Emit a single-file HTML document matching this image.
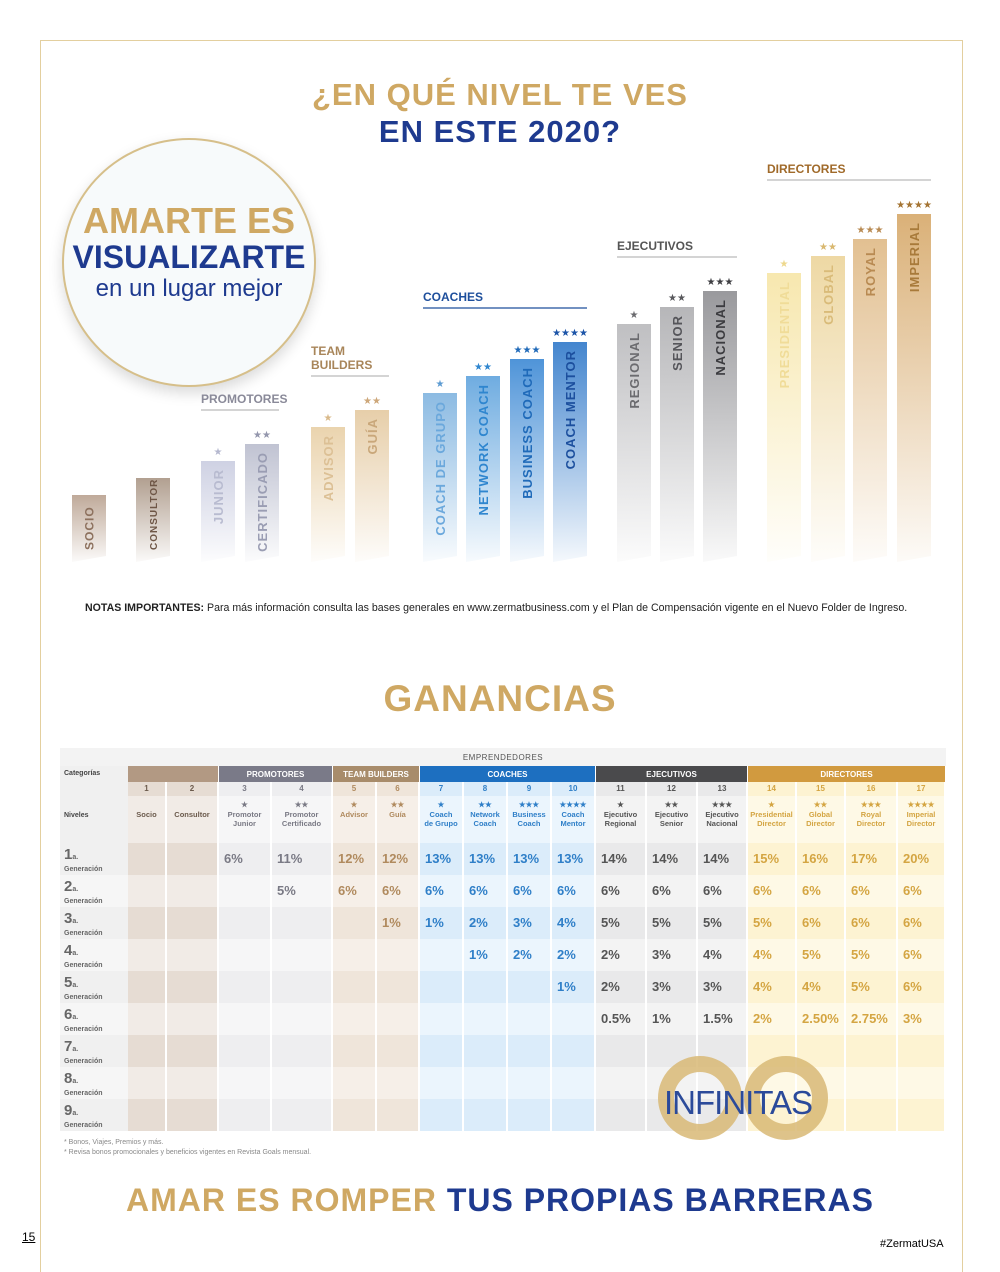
<!DOCTYPE html>
<html><head><meta charset="utf-8"><style>
body{margin:0;background:#fff;font-family:"Liberation Sans",sans-serif}
#page{position:relative;width:1000px;height:1272px;overflow:hidden;background:#fff}
.abs{position:absolute}
.gold{color:#cfa863}.navy{color:#1e3a8f}
</style></head><body>
<div id="page">
<div class="abs" style="left:40px;top:40px;width:923px;height:1240px;border:1.5px solid #e3cf9f;border-bottom:none;box-sizing:border-box"></div>
<div class="abs" style="left:0;top:76px;width:1000px;text-align:center;font-weight:bold;font-size:31px;line-height:37px;letter-spacing:1px"><span class="gold">¿EN QUÉ NIVEL TE VES</span><br><span class="navy">EN ESTE 2020?</span></div>
<div class="abs" style="left:62px;top:138px;width:250px;height:245px;border-radius:50%;background:#f7fafb;border:2px solid #d6bf8a;box-shadow:0 6px 14px rgba(0,0,0,.15);text-align:center">
<div style="margin-top:62px;font-weight:bold;font-size:36px;color:#cfa863;line-height:38px">AMARTE ES</div>
<div style="font-weight:bold;font-size:32px;color:#1e3a8f;line-height:34px">VISUALIZARTE</div>
<div style="font-size:24px;color:#1e3a8f;line-height:30px">en un lugar mejor</div></div>
<svg id="bars" class="abs" style="left:0;top:0" width="1000" height="600"></svg>
<div class="abs" style="left:85px;top:602px;font-size:10.6px;color:#222;white-space:nowrap"><b>NOTAS IMPORTANTES:</b> Para más información consulta las bases generales en www.zermatbusiness.com y el Plan de Compensación vigente en el Nuevo Folder de Ingreso.</div>
<div class="abs gold" style="left:0;top:678px;width:1000px;text-align:center;font-weight:bold;font-size:37px;letter-spacing:1px">GANANCIAS</div>
<div id="tbl" class="abs" style="left:0;top:0"></div>
<div class="abs" style="left:652px;top:1056px;width:190px;height:84px">
<div class="abs" style="left:6px;top:0;width:84px;height:84px;border-radius:50%;border:16px solid #d8b875;box-sizing:border-box;opacity:.85"></div>
<div class="abs" style="left:92px;top:0;width:84px;height:84px;border-radius:50%;border:16px solid #d8b875;box-sizing:border-box;opacity:.85"></div>
<div class="abs" style="left:12px;top:28px;font-size:33px;color:#2b4a9a;letter-spacing:-1px">INFINITAS</div></div>
<div class="abs" style="left:64px;top:1138px;font-size:7px;color:#888;line-height:10px">* Bonos, Viajes, Premios y más.<br>* Revisa bonos promocionales y beneficios vigentes en Revista Goals mensual.</div>
<div class="abs" style="left:0;top:1182px;width:1000px;text-align:center;font-weight:bold;font-size:32px;letter-spacing:1px"><span class="gold">AMAR ES ROMPER</span> <span class="navy">TUS PROPIAS BARRERAS</span></div>
<div class="abs" style="left:22px;top:1230px;font-size:12px;text-decoration:underline">15</div>
<div class="abs" style="left:880px;top:1238px;font-size:11px">#ZermatUSA</div>
</div>
<script>
// chart data
const levelNames=["SOCIO","CONSULTOR","JUNIOR","CERTIFICADO","ADVISOR","GUÍA","COACH DE GRUPO","NETWORK COACH","BUSINESS COACH","COACH MENTOR","REGIONAL","SENIOR","NACIONAL","PRESIDENTIAL","GLOBAL","ROYAL","IMPERIAL"];
const levelHeights=[67,84,101,118,135,152,169,186,203,220,238,255,271,289,306,323,348];
const levelStars=[0,0,1,2,1,2,1,2,3,4,1,2,3,1,2,3,4];
const groupNames=["PROMOTORES","TEAM BUILDERS","COACHES","EJECUTIVOS","DIRECTORES"];
const groupSpan=[[2,3],[4,5],[6,9],[10,12],[13,16]];
const NS="http://www.w3.org/2000/svg";
const svg=document.getElementById('bars');
const xs=[72,136,201,245,311,355,423,466,510,553,617,660,703,767,811,853,897];
const baseY=562,bw=34;
const pal=[["#b8a08e","#8a6f5c"],["#a99584","#7d6656"],["#c9cce0","#b5b8cf"],["#b9bccd","#9497ad"],["#e8cfa5","#d9b98a"],["#e4c9a0","#cda77a"],["#7fb3df","#5c9bd2"],["#5fa3dd","#2f86cf"],["#3b88d4","#1f69b8"],["#2f78c9","#1d55a8"],["#b8b8bb","#6a6a6e"],["#aeaeb1","#58585c"],["#8e8e92","#3f3f43"],["#f6e5a6","#eed88d"],["#ecd49a","#d9b870"],["#dfb985","#b88a52"],["#d6a869","#a47433"]];
const tcol=["#8d715e","#6e5646","#b8bbd0","#9a9db3","#dcc095","#c9a77a","#6ba8dc","#2f86cf","#1f6ab9","#1c4f9e","#6b6b6f","#55555a","#3b3b3f","#f0dc98","#d9bb79","#b88a52","#a87a3a"];
const defs=document.createElementNS(NS,'defs');svg.appendChild(defs);
levelNames.forEach((n,i)=>{
 const g=document.createElementNS(NS,'linearGradient');g.id='g'+i;g.setAttribute('x1',0);g.setAttribute('y1',0);g.setAttribute('x2',0);g.setAttribute('y2',1);
 g.innerHTML=`<stop offset="0" stop-color="${pal[i][0]}" stop-opacity="0.9"/><stop offset="1" stop-color="${pal[i][0]}" stop-opacity="0.05"/>`;
 defs.appendChild(g);
 const top=baseY-levelHeights[i],x=xs[i];
 const p=document.createElementNS(NS,'path');
 p.setAttribute('d',`M${x},${top}H${x+bw}V${baseY-6}L${x},${baseY}Z`);
 p.setAttribute('fill',`url(#g${i})`);
 
 
 svg.appendChild(p);
 const t=document.createElementNS(NS,'text');
 const small=i<2;
 const fs=small?(i==0?12:10):13;
 const startY=small?baseY-12:top+8;
 t.setAttribute('transform',`translate(${x+bw/2+fs*0.38},${startY}) rotate(-90)`);
 t.setAttribute('text-anchor',small?'start':'end');t.setAttribute('font-size',fs);t.setAttribute('font-weight','bold');t.setAttribute('letter-spacing','1');
 t.setAttribute('fill',tcol[i]);t.textContent=n;
 
 
 svg.appendChild(t);
 if(levelStars[i]){const s=document.createElementNS(NS,'text');
 s.setAttribute('x',x+bw/2);s.setAttribute('y',top-6);s.setAttribute('text-anchor','middle');s.setAttribute('font-size','10');s.setAttribute('fill',pal[i][1]);
 s.textContent='★'.repeat(levelStars[i]);
 
 
 svg.appendChild(s);}
});
const gcol=["#8a8a99","#a88559","#1e4f9c","#555","#a06a2a"];
groupNames.forEach((n,k)=>{
 const a=groupSpan[k][0],b=groupSpan[k][1];
 const topH=Math.max(...levelHeights.slice(a,b+1));
 const y=baseY-topH-34;const x1=xs[a],x2=xs[b]+bw;
 const l=document.createElementNS(NS,'line');l.setAttribute('x1',x1);l.setAttribute('x2',x2);l.setAttribute('y1',y);l.setAttribute('y2',y);l.setAttribute('stroke',k==2?'#1e4f9c':'#bbb');l.setAttribute('stroke-width','1.2');
 
 
 svg.appendChild(l);
 const lines=n=="TEAM BUILDERS"?["TEAM","BUILDERS"]:[n];
 lines.forEach((s,j)=>{const t=document.createElementNS(NS,'text');t.setAttribute('x',x1);t.setAttribute('y',y-7-(lines.length-1-j)*14);t.setAttribute('font-size','12');t.setAttribute('font-weight','bold');t.setAttribute('fill',gcol[k]);t.textContent=s;
 
 
 svg.appendChild(t);});
});

// table
const colX=[128,167,219,272,333,377,420,464,508,552,596,647,698,748,797,846,898,946];
const colNames=["Socio","Consultor","Promotor Junior","Promotor Certificado","Advisor","Guía","Coach de Grupo","Network Coach","Business Coach","Coach Mentor","Ejecutivo Regional","Ejecutivo Senior","Ejecutivo Nacional","Presidential Director","Global Director","Royal Director","Imperial Director"];
const gen1=["","","6%","11%","12%","12%","13%","13%","13%","13%","14%","14%","14%","15%","16%","17%","20%"];
const gen2=["","","","5%","6%","6%","6%","6%","6%","6%","6%","6%","6%","6%","6%","6%","6%"];
const gen3=["","","","","","1%","1%","2%","3%","4%","5%","5%","5%","5%","6%","6%","6%"];
const gen4=["","","","","","","","1%","2%","2%","2%","3%","4%","4%","5%","5%","6%"];
const gen5=["","","","","","","","","","1%","2%","3%","3%","4%","4%","5%","6%"];
const gen6=["","","","","","","","","","","0.5%","1%","1.5%","2%","2.50%","2.75%","3%"];
const genRows=[gen1,gen2,gen3,gen4,gen5,gen6,[],[],[]];
const T=document.getElementById('tbl');
function box(x,y,w,h,bg,html,st,name){const d=document.createElement('div');d.className='abs';d.style.cssText=`left:${x}px;top:${y}px;width:${w}px;height:${h}px;background:${bg};${st||''}`;d.innerHTML=html||'';
 
 
 T.appendChild(d);return d;}
const grp=i=>i<2?0:i<4?1:i<6?2:i<10?3:i<13?4:5;
const bgA=["#e6dcd3","#eeeef0","#efe5da","#dbecfa","#e9e9ea","#fdf3d2"];
const bgB=["#f1ebe6","#f6f6f7","#f6efe8","#ebf5fd","#f3f3f3","#fef9e6"];
const txc=["#6b5a4c","#7a7a85","#b08a5e","#2f7fc8","#555","#d4a542"];
box(60,748,886,18,"#f3f3f3",'<div style="text-align:center;font-size:8px;color:#555;padding-top:5px;letter-spacing:.5px">EMPRENDEDORES</div>','','emprendedores-header');
box(60,766,68,16,"#f0f0f0",'<div style="font-size:7px;font-weight:bold;color:#444;padding:4px">Categorías</div>','','categorias-label');
const heads=[[0,2,"#b29983",""],[2,4,"#7a7a88","PROMOTORES"],[4,6,"#a88c6b","TEAM BUILDERS"],[6,10,"#1d6fc0","COACHES"],[10,13,"#4a4a4c","EJECUTIVOS"],[13,17,"#d19a3f","DIRECTORES"]];
heads.forEach(h=>box(colX[h[0]],766,colX[h[1]]-colX[h[0]]-1,16,h[2],`<div style="text-align:center;color:#fff;font-size:8px;font-weight:bold;padding-top:4px">${h[3]}</div>`,'','category-header'));
box(60,782,68,61,"#f0f0f0",'<div style="font-size:7px;font-weight:bold;color:#444;padding:30px 4px">Niveles</div>','','niveles-label');
for(let i=0;i<17;i++){const g=grp(i),w=colX[i+1]-colX[i]-2;
 box(colX[i],782,w,14,bgA[g],`<div style="text-align:center;font-size:8px;font-weight:bold;color:${txc[g]};padding-top:2px">${i+1}</div>`,'','level-number');
 const st=levelStars[i]?'★'.repeat(levelStars[i])+'<br>':'<br>';
 box(colX[i],796,w,47,bgB[g],`<div style="text-align:center;font-size:7.5px;font-weight:bold;color:${txc[g]};padding-top:4px;line-height:9.5px">${st}${colNames[i].replace(' ','<br>')}</div>`,'','level-name');
}
genRows.forEach((row,r)=>{const y=843+r*32;
 box(60,y,68,32,r%2?"#f6f6f6":"#f0f0f0",`<div style="padding:5px 4px 0;color:#666;font-weight:bold;line-height:14px"><span style="font-size:15px">${r+1}</span><span style="font-size:7px">a.</span><div style="font-size:7px;line-height:9px">Generación</div></div>`,'','generation-label');
 for(let i=0;i<17;i++){const g=grp(i);const v=row[i]||'';
  box(colX[i],y,colX[i+1]-colX[i]-2,32,r%2?bgB[g]:bgA[g],`<div style="font-size:13px;font-weight:bold;color:${txc[g]};padding:8px 0 0 5px">${v}</div>`,'','pct-cell');}
});
</script>
</body></html>
